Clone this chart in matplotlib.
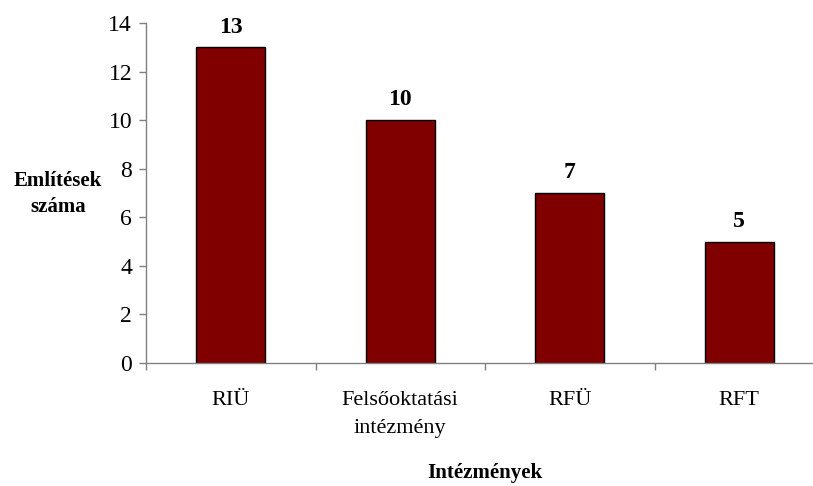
import matplotlib.pyplot as plt
import numpy as np

# adatok
categories = ['RIÜ', 'Felsőoktatási\nintézmény', 'RFÜ', 'RFT']
values = [13, 10, 7, 5]

plt.rcParams['font.family'] = ['Liberation Serif', 'DejaVu Serif']

fig = plt.figure(figsize=(8.13, 4.86), dpi=100)
ax = fig.add_axes([146 / 813, 123 / 486, 678 / 813, 340 / 486])

x = np.arange(len(categories))
bars = ax.bar(x, values, width=0.41, color='#800000', edgecolor='black', linewidth=1.0)

for xi, v in zip(x, values):
    ax.annotate(str(v), (xi, v), xytext=(0, 7), textcoords='offset points',
                ha='center', va='bottom', fontsize=17, fontweight='bold')

ax.set_xlim(-0.5, len(categories) - 0.5)
ax.set_ylim(0, 14)
ax.set_yticks(np.arange(0, 15, 2))
ax.tick_params(axis='y', direction='out', length=5, width=1, color='#808080',
               labelsize=17, pad=5)

# kategóriák között a jelölők
ax.set_xticks(x)
ax.set_xticklabels(categories, fontsize=16, linespacing=1.65)
ax.tick_params(axis='x', which='major', length=0, pad=20)
ax.set_xticks(np.arange(-0.5, len(categories) - 0.5, 1), minor=True)
ax.tick_params(axis='x', which='minor', direction='out', length=5, width=1, color='#808080')

for s in ['top', 'right']:
    ax.spines[s].set_visible(False)
for s in ['left', 'bottom']:
    ax.spines[s].set_color('#808080')
    ax.spines[s].set_linewidth(1)

fig.text(58 / 813, 1 - 194 / 486, 'Említések\nszáma', ha='center', va='center',
         fontsize=15, fontweight='bold', linespacing=1.45)
fig.text(485 / 813, 1 - 473 / 486, 'Intézmények', ha='center', va='center',
         fontsize=15, fontweight='bold')

fig.savefig('out.png', dpi=100)
